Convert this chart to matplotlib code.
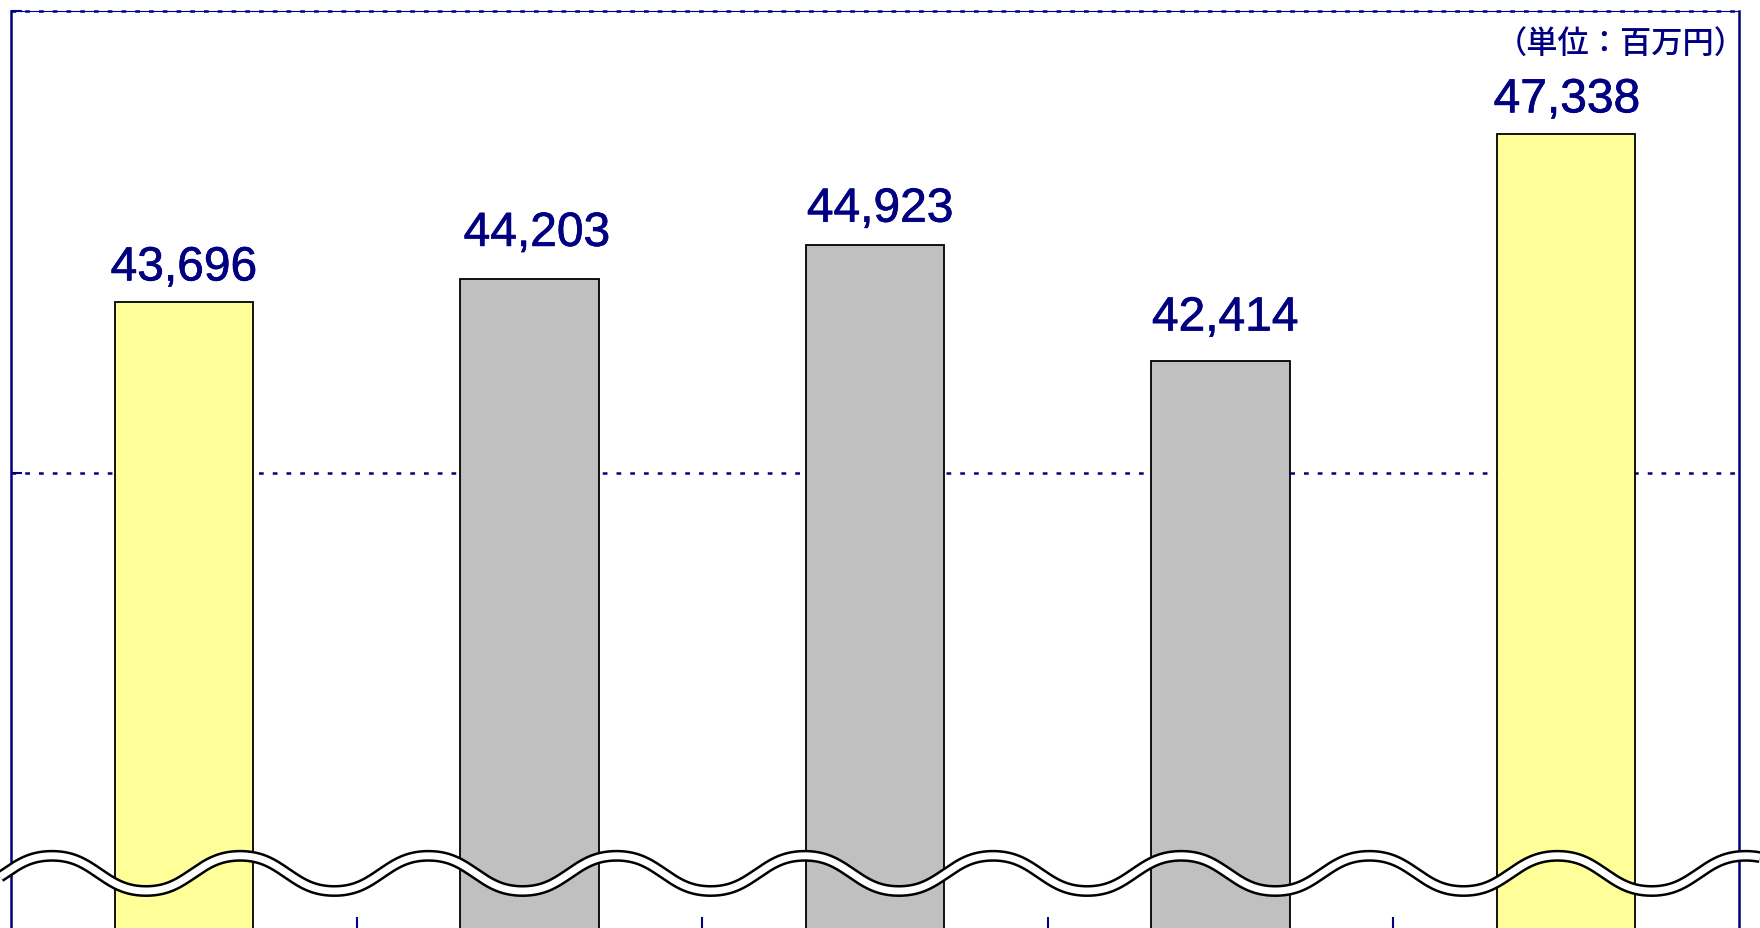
import numpy as np
import matplotlib.pyplot as plt
import matplotlib.patheffects as pe
from matplotlib.lines import Line2D

# data (values in 百万円)
values = [43696, 44203, 44923, 42414, 47338]
value_labels = ['43,696', '44,203', '44,923', '42,414', '47,338']
bar_colors = ['#FFFF99', '#C0C0C0', '#C0C0C0', '#C0C0C0', '#FFFF99']
unit_label = '（単位：百万円）'

# labels were nudged by hand in the original, offsets in points
label_dx = [0, 5.3, 3.6, 3.2, 0.5]
label_dy = [15.5, 23.5, 17, 22, 15.5]

NAVY = '#000080'
W, H = 1760, 929

plt.rcParams['lines.scale_dashes'] = False

fig = plt.figure(figsize=(W / 100, H / 100), dpi=100)
# plot area runs a little past the bottom edge (the picture is cropped there)
ax = fig.add_axes([11 / W, 1 - 935 / H, (1739 - 11) / W, (935 - 12) / H])

x = np.arange(len(values))
ax.bar(x, values, width=0.4, color=bar_colors, edgecolor='black', linewidth=1.3, zorder=3)
ax.set_xlim(-0.5, len(values) - 0.5)
ax.set_ylim(30000, 50000)

thick = [pe.withStroke(linewidth=0.5, foreground=NAVY)]
for xi, v, s, dx, dy in zip(x, values, value_labels, label_dx, label_dy):
    ax.annotate(s, (xi, v), xytext=(dx, dy), textcoords='offset points',
                ha='center', va='baseline', fontsize=34.5, color=NAVY,
                family='Liberation Sans', path_effects=thick)

ax.set_yticks([40000, 50000])
ax.set_xticks(x[:-1] + 0.5)
ax.set_axisbelow(True)
ax.yaxis.grid(True, color=NAVY, linewidth=1.8, linestyle=(0, (3.4, 6.5)))
for gl in ax.get_ygridlines():
    gl.set_clip_on(False)
ax.tick_params(axis='y', direction='in', length=8, width=1.5, color=NAVY, labelleft=False)
ax.tick_params(axis='x', direction='in', length=12, width=1.5, color=NAVY, labelbottom=False)
for side in ['left', 'right', 'bottom']:
    ax.spines[side].set_color(NAVY)
    ax.spines[side].set_linewidth(1.8)
ax.spines['top'].set_color(NAVY)
ax.spines['top'].set_linewidth(0.8)

# axis-break wave across the whole picture (slightly flattened crests)
xs = np.linspace(0, W, 3000)
th = 2 * np.pi * (xs - 52) / 188.2
shape = (np.cos(th) - 0.04 * np.cos(3 * th)) / 0.96
ys = 874.4 - 17.6 * shape
fig.add_artist(Line2D(xs / W, 1 - ys / H, transform=fig.transFigure,
                      color='black', lw=8.6, zorder=10, solid_capstyle='butt'))
fig.add_artist(Line2D(xs / W, 1 - ys / H, transform=fig.transFigure,
                      color='white', lw=5.0, zorder=11, solid_capstyle='butt'))

fig.text(1746 / W, 1 - 44 / H, unit_label, ha='right', va='center', fontsize=22.5,
         color=NAVY, family=['Noto Sans CJK JP', 'DejaVu Sans'], fontweight='medium')

fig.savefig('out.png', dpi=100)
